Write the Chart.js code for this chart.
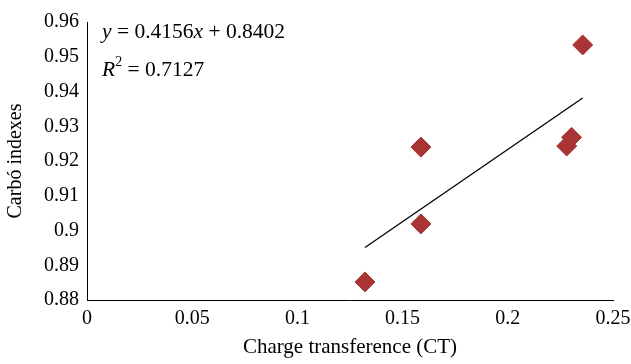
<!DOCTYPE html>
<html>
<head>
<meta charset="utf-8">
<script src="https://cdn.jsdelivr.net/npm/chart.js@4.4.0/dist/chart.umd.min.js"></script>
<style>
  html,body{margin:0;padding:0;background:#fff;}
  #wrap{width:631px;height:364px;position:relative;}
</style>
</head>
<body>
<div id="wrap"><canvas id="scatterChart" width="631" height="364"></canvas></div>
<script>
// data
const ctValues = [0.1321, 0.1587, 0.1587, 0.2280, 0.2303, 0.2356];
const carboValues = [0.8852, 0.9240, 0.9019, 0.9243, 0.9268, 0.9534];
const xTicks = [0, 0.05, 0.1, 0.15, 0.2, 0.25];
const yTicks = [0.88, 0.89, 0.9, 0.91, 0.92, 0.93, 0.94, 0.95, 0.96];
const slope = 0.4156, intercept = 0.8402, r2 = 0.7127;

const FONT = "'Liberation Serif', 'Times New Roman', serif";
Chart.defaults.font.family = FONT;
Chart.defaults.color = '#000';

window.addEventListener('load', ()=>{
  const pts = ctValues.map((x,i)=>({x:x, y:carboValues[i]}));
  const xMin = Math.min(...ctValues), xMax = Math.max(...ctValues);
  const trend = [xMin, xMax].map(x=>({x:x, y:slope*x+intercept}));

  // equation label in the top-left corner
  const eqLabel = {
    id:'eqLabel',
    afterDraw(chart){
      const c = chart.ctx;
      c.save();
      c.fillStyle = '#000';
      c.textBaseline = 'alphabetic';
      const parts1 = [['y',true],[' = '+slope+'',false],['x',true],[' + '+intercept,false]];
      let x = 102;
      parts1.forEach(([t,it])=>{
        c.font = (it?'italic ':'')+'21.5px '+FONT;
        c.fillText(t, x, 38);
        x += c.measureText(t).width;
      });
      x = 102;
      c.font = 'italic 21.5px '+FONT;
      c.fillText('R', x, 76); x += c.measureText('R').width;
      c.font = '14px '+FONT;
      c.fillText('2', x, 66); x += c.measureText('2').width;
      c.font = '21.5px '+FONT;
      c.fillText(' = '+r2, x, 76);
      c.restore();
    }
  };

  const fmt = v => String(parseFloat(Number(v).toFixed(2)));

  new Chart(document.getElementById('scatterChart'), {
    type:'scatter',
    data:{
      datasets:[
        {label:'Carbó', data:pts, pointStyle:'rectRot', pointRadius:10, pointHoverRadius:10,
         backgroundColor:'#a83434', borderColor:'#a83434', borderWidth:1},
        {type:'line', label:'Trend', data:trend, borderColor:'#000', borderWidth:1.3,
         pointRadius:0, fill:false, showLine:true}
      ]
    },
    options:{
      responsive:false, animation:false,
      layout:{padding:{top:22, right:18, left:0, bottom:0}},
      plugins:{legend:{display:false}, tooltip:{enabled:false}},
      scales:{
        x:{type:'linear', min:0, max:0.25,
           afterBuildTicks: s => { s.ticks = xTicks.map(v=>({value:v})); },
           afterFit: s => { s.height = 64; s.paddingRight = 0; s.paddingLeft = 0; },
           grid:{display:false, drawTicks:false},
           border:{color:'#000', width:1},
           ticks:{color:'#000', padding:7, font:{family:FONT, size:20}, callback:fmt, maxRotation:0},
           title:{display:true, text:'Charge transference (CT)', color:'#000', padding:{top:4}, font:{family:FONT, size:21}}
        },
        y:{type:'linear', min:0.88, max:0.96,
           afterBuildTicks: s => { s.ticks = yTicks.map(v=>({value:v})); },
           afterFit: s => { s.width = 87; s.paddingTop = 0; s.paddingBottom = 0; },
           grid:{display:false, drawTicks:false},
           border:{color:'#000', width:1},
           ticks:{color:'#000', padding:8, font:{family:FONT, size:20}, callback:fmt},
           title:{display:true, text:'Carbó indexes', color:'#000', padding:{bottom:0}, font:{family:FONT, size:20}}
        }
      }
    },
    plugins:[eqLabel]
  });
});
</script>
</body>
</html>
